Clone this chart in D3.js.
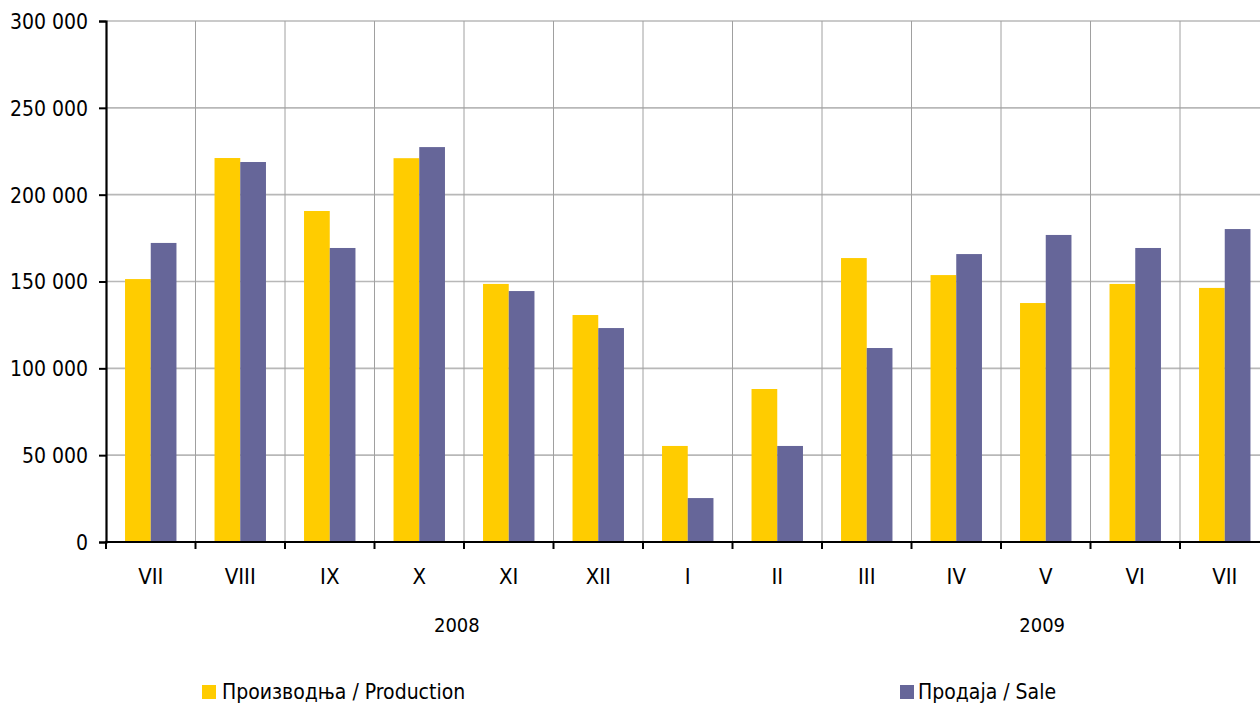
<!DOCTYPE html>
<html>
<head>
<meta charset="utf-8">
<script src="https://cdn.jsdelivr.net/npm/d3@7"></script>
<style>
  body { margin: 0; background: #fff; }
  svg { display: block; }
  text { font-family: "DejaVu Sans Condensed", "DejaVu Sans", sans-serif; fill: #000; }
</style>
</head>
<body>
<div id="chart"></div>
<script>
// months, Jul 2008 - Jul 2009
var months = ["VII", "VIII", "IX", "X", "XI", "XII", "I", "II", "III", "IV", "V", "VI", "VII"];
var production = [151400, 221100, 190600, 221000, 148600, 130700, 55300, 88100, 163500, 153700, 137600, 148600, 146300];
var sale = [172200, 218800, 169300, 227400, 144500, 123200, 25300, 55300, 111700, 165800, 176800, 169300, 180200];
var years = ["2008", "2009"];
var yearPos = [3.92, 10.46];   // in category units from the left edge
var seriesNames = ["Производња / Production", "Продаја / Sale"];
var colors = ["#FFCC00", "#666699"];

var W = 1260, H = 704;
var margin = {top: 21, left: 106, bottom: 162};
var bandW = 89.5;
var plotW = bandW * months.length;
var plotH = H - margin.top - margin.bottom;

var svg = d3.select("#chart")
            .append("svg")
              .attr("width", W)
              .attr("height", H)
              .style("overflow", "hidden");

var idx = d3.range(months.length);
var x = d3.scaleBand()
    .domain(idx)
    .range([margin.left, margin.left + plotW])
    .paddingInner(0)
    .paddingOuter(0);

var xs = d3.scaleBand()
    .domain([0, 1])
    .range([0, x.bandwidth()])
    .paddingOuter(0.74)
    .paddingInner(0);

var y = d3.scaleLinear()
    .domain([0, 300000])
    .range([margin.top + plotH, margin.top]);

var yTicks = d3.range(0, 300001, 50000);
var fmt = function(d) { return d3.format(",")(d).replace(/,/g, " "); };

// horizontal grid
svg.append("g")
    .selectAll("line")
    .data(yTicks.filter(d => d > 0))
    .enter().append("line")
    .attr("x1", margin.left)
    .attr("x2", margin.left + plotW)
    .attr("y1", d => y(d))
    .attr("y2", d => y(d))
    .style("stroke", "#b8b8b8")
    .style("stroke-width", 1.6);

// vertical grid
svg.append("g")
    .selectAll("line")
    .data(idx.slice(1))
    .enter().append("line")
    .attr("x1", d => x(d))
    .attr("x2", d => x(d))
    .attr("y1", y(300000))
    .attr("y2", y(0))
    .style("stroke", "#a0a0a0")
    .style("stroke-width", 1);

// bars
var series = [production, sale];
series.forEach(function(vals, s) {
    svg.append("g")
        .selectAll("rect")
        .data(vals)
        .enter().append("rect")
        .attr("x", (d, i) => x(i) + xs(s))
        .attr("width", xs.bandwidth())
        .attr("y", d => y(d))
        .attr("height", d => y(0) - y(d))
        .style("fill", colors[s]);
});

// y axis
var yAxis = svg.append("g")
    .attr("transform", "translate(" + margin.left + ",0)")
    .call(d3.axisLeft(y).tickValues(yTicks).tickFormat(fmt).tickSize(7).tickPadding(11));
yAxis.select(".domain").style("stroke", "#000").style("stroke-width", 2.2);
yAxis.selectAll(".tick line").style("stroke", "#000").style("stroke-width", 2);
yAxis.selectAll(".tick text").style("font-size", "21px").attr("dy", "0.35em");

// x axis
var xAxisG = svg.append("g");
xAxisG.append("line")
    .attr("x1", margin.left - 1)
    .attr("x2", margin.left + plotW)
    .attr("y1", y(0))
    .attr("y2", y(0))
    .style("stroke", "#000")
    .style("stroke-width", 2.2);
xAxisG.selectAll(".xtick")
    .data(idx)
    .enter().append("line")
    .attr("x1", d => x(d))
    .attr("x2", d => x(d))
    .attr("y1", y(0))
    .attr("y2", y(0) + 7)
    .style("stroke", "#000")
    .style("stroke-width", 2);
xAxisG.selectAll(".xlabel")
    .data(idx)
    .enter().append("text")
    .attr("x", d => x(d) + x.bandwidth() / 2)
    .attr("y", y(0) + 42)
    .attr("text-anchor", "middle")
    .style("font-size", "22px")
    .text(d => months[d]);

// year labels
svg.selectAll(".year")
    .data(years)
    .enter().append("text")
    .attr("x", (d, i) => margin.left + yearPos[i] * x.bandwidth())
    .attr("y", y(0) + 90)
    .attr("text-anchor", "middle")
    .style("font-size", "20px")
    .text(d => d);

// legend
var legendX = [202, 900];
var lg = svg.selectAll(".legend")
    .data(seriesNames)
    .enter().append("g")
    .attr("transform", (d, i) => "translate(" + legendX[i] + ",685)");
lg.append("rect")
    .attr("width", 14)
    .attr("height", 14)
    .style("fill", (d, i) => colors[i]);
lg.append("text")
    .attr("x", (d, i) => i === 0 ? 20 : 18)
    .attr("y", 14)
    .style("font-size", "21px")
    .text(d => d);
</script>
</body>
</html>
